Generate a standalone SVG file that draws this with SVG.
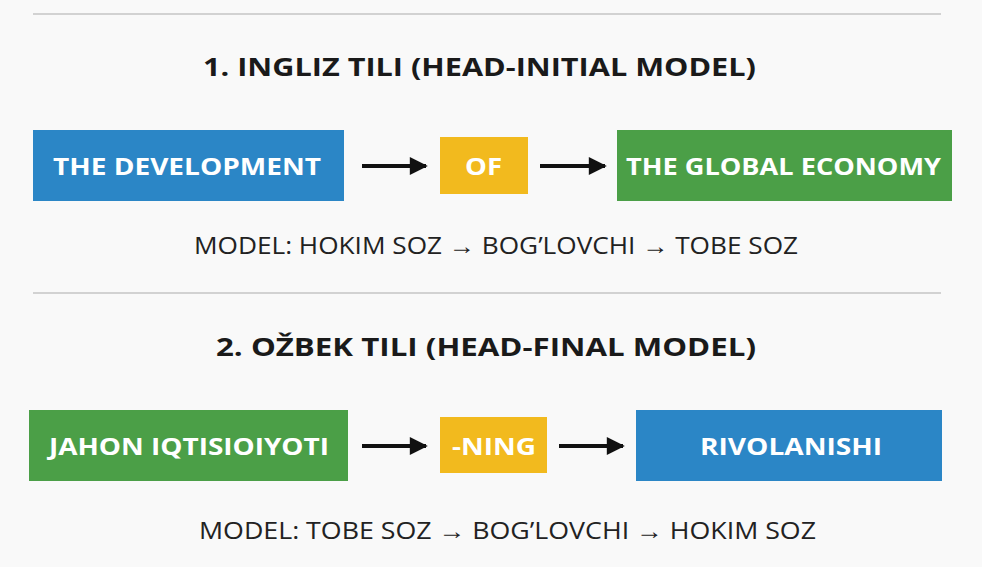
<svg xmlns="http://www.w3.org/2000/svg" width="982" height="567" viewBox="0 0 982 567">
<style>
.title{font-family:"Open Sans","Liberation Sans",sans-serif;font-weight:700;font-size:25px;fill:#1a1a1a}
.lbl{font-family:"Open Sans","Liberation Sans",sans-serif;font-weight:700;font-size:24px;fill:#ffffff}
.sub{font-family:"Open Sans","Liberation Sans",sans-serif;font-weight:400;font-size:24px;fill:#222222}
.blue{fill:#2b86c6}
.yellow{fill:#f2ba1e}
.green{fill:#4b9f47}
.sep{stroke:#d2d2d2;stroke-width:2}
.arr{stroke:#111111;stroke-width:4;fill:none}
</style>
<defs>
<marker id="ah" viewBox="0 0 10 10" refX="9" refY="5" markerWidth="4.75" markerHeight="4.5" orient="auto" markerUnits="strokeWidth">
<path d="M0,0 L10,5 L0,10 Z" fill="#111111"/>
</marker>
</defs>
<rect width="982" height="567" fill="#f9f9f9"/>
<line class="sep" x1="33" y1="14" x2="941" y2="14"/>
<line class="sep" x1="33" y1="293" x2="941" y2="293"/>
<text class="title" x="203" y="76" textLength="553" lengthAdjust="spacingAndGlyphs">1. INGLIZ TILI (HEAD-INITIAL MODEL)</text>
<text class="title" x="216" y="356" textLength="540" lengthAdjust="spacingAndGlyphs">2. OŽBEK TILI (HEAD-FINAL MODEL)</text>
<g id="n1">
<rect class="blue" x="33" y="130" width="311" height="71"/>
<text class="lbl" x="53" y="174.5" textLength="268" lengthAdjust="spacingAndGlyphs">THE DEVELOPMENT</text>
</g>
<g id="n2">
<rect class="yellow" x="440" y="137" width="88" height="57"/>
<text class="lbl" x="465" y="174.5" textLength="37" lengthAdjust="spacingAndGlyphs">OF</text>
</g>
<g id="n3">
<rect class="green" x="617" y="130" width="335" height="71"/>
<text class="lbl" x="626" y="174.5" textLength="315" lengthAdjust="spacingAndGlyphs">THE GLOBAL ECONOMY</text>
</g>
<text class="sub" x="194" y="254" textLength="604" lengthAdjust="spacingAndGlyphs">MODEL: HOKIM SOZ → BOG’LOVCHI → TOBE SOZ</text>
<g id="n4">
<rect class="green" x="29" y="410" width="319" height="71"/>
<text class="lbl" x="49" y="454.5" textLength="280" lengthAdjust="spacingAndGlyphs">JAHON IQTISIOIYOTI</text>
</g>
<g id="n5">
<rect class="yellow" x="440" y="417" width="107" height="56"/>
<text class="lbl" x="452" y="454.5" textLength="84" lengthAdjust="spacingAndGlyphs">-NING</text>
</g>
<g id="n6">
<rect class="blue" x="636" y="410" width="306" height="71"/>
<text class="lbl" x="700" y="454.5" textLength="182" lengthAdjust="spacingAndGlyphs">RIVOLANISHI</text>
</g>
<text class="sub" x="199" y="539" textLength="617" lengthAdjust="spacingAndGlyphs">MODEL: TOBE SOZ → BOG’LOVCHI → HOKIM SOZ</text>
<g id="connectors">
<line class="arr" x1="362" y1="166" x2="426" y2="166" marker-end="url(#ah)"/>
<line class="arr" x1="540" y1="166" x2="605" y2="166" marker-end="url(#ah)"/>
<line class="arr" x1="362" y1="446" x2="426" y2="446" marker-end="url(#ah)"/>
<line class="arr" x1="559" y1="446" x2="623" y2="446" marker-end="url(#ah)"/>
</g>
</svg>
